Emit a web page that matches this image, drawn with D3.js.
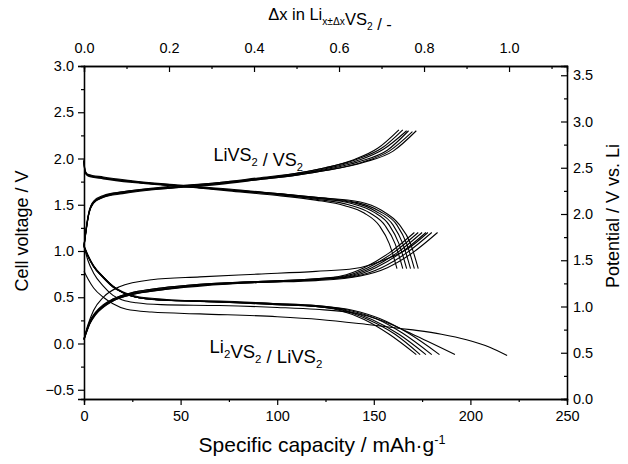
<!DOCTYPE html>
<html>
<head>
<meta charset="utf-8">
<script src="https://cdn.jsdelivr.net/npm/d3@7"></script>
<style>
  body { margin: 0; background: #fff; }
  text { font-family: "Liberation Sans", Arial, sans-serif; fill: #000; }
</style>
</head>
<body>
<div class="chart"></div>
<script>
// ---- data ----
// upper plateau, charge LiVS2 -> VS2
const uc1 = [[0,1.05],[1,1.22],[2.5,1.41],[5,1.53],[10,1.59],[20,1.63],[45,1.69],[70,1.74],[90,1.78],[110,1.84],[125,1.9],[140,1.99],[152,2.11],[163,2.31]];
const uc2 = [[0,1.05],[1,1.23],[2.5,1.42],[5,1.54],[10,1.6],[20,1.64],[45,1.7],[70,1.74],[90,1.79],[110,1.84],[125,1.9],[141,1.99],[154,2.11],[165,2.31]];
const uc3 = [[0,1.06],[1,1.22],[2.5,1.41],[5,1.53],[10,1.59],[20,1.64],[45,1.69],[70,1.73],[90,1.78],[110,1.83],[125,1.89],[142,1.98],[155,2.1],[167,2.3]];
const uc4 = [[0,1.05],[1,1.21],[2.5,1.4],[5,1.52],[10,1.59],[20,1.63],[45,1.69],[70,1.73],[90,1.78],[110,1.83],[125,1.88],[143,1.97],[157,2.09],[168,2.3]];
const uc5 = [[0,1.05],[1,1.2],[2.5,1.4],[5,1.52],[10,1.58],[20,1.63],[45,1.68],[70,1.73],[90,1.77],[110,1.82],[125,1.87],[144,1.96],[158,2.08],[170,2.29]];
const uc6 = [[0,1.06],[1,1.21],[2.5,1.4],[5,1.52],[10,1.58],[20,1.62],[45,1.68],[70,1.72],[90,1.77],[110,1.82],[125,1.87],[145,1.96],[160,2.08],[172,2.3]];

// upper plateau, discharge VS2 -> LiVS2
const ud1 = [[0,1.98],[0.5,1.87],[2,1.82],[10,1.79],[25,1.75],[50,1.7],[75,1.65],[100,1.6],[120,1.55],[135,1.49],[145,1.41],[153,1.27],[158,1.08],[162,0.81]];
const ud2 = [[0,1.97],[0.5,1.86],[2,1.82],[10,1.79],[25,1.75],[50,1.7],[75,1.66],[100,1.61],[120,1.56],[137,1.5],[148,1.41],[156,1.27],[161,1.08],[165,0.81]];
const ud3 = [[0,1.99],[0.5,1.87],[2,1.83],[10,1.8],[25,1.76],[50,1.71],[75,1.66],[100,1.61],[120,1.57],[139,1.51],[150,1.42],[158,1.28],[163,1.08],[167,0.81]];
const ud4 = [[0,1.97],[0.5,1.86],[2,1.82],[10,1.79],[25,1.75],[50,1.7],[75,1.66],[100,1.62],[120,1.57],[140,1.52],[151,1.43],[160,1.28],[165,1.08],[169,0.81]];
const ud5 = [[0,1.98],[0.5,1.86],[2,1.82],[10,1.79],[25,1.75],[50,1.71],[75,1.67],[100,1.62],[120,1.58],[142,1.52],[153,1.43],[162,1.28],[167,1.08],[171,0.81]];
const ud6 = [[0,1.97],[0.5,1.85],[2,1.81],[10,1.78],[25,1.74],[50,1.7],[75,1.66],[100,1.62],[120,1.58],[143,1.53],[154,1.44],[163,1.29],[169,1.08],[173,0.81]];

// lower plateau, charge Li2VS2 -> LiVS2
const lc0 = [[0,0.05],[2,0.2],[5,0.36],[10,0.5],[18,0.61],[35,0.69],[60,0.72],[90,0.75],[120,0.78],[140,0.81],[155,0.9],[168,1.03],[178,1.2]];
const lc1 = [[0,0.05],[1,0.12],[3,0.24],[6,0.34],[10,0.42],[15,0.48],[25,0.55],[40,0.6],[60,0.64],[90,0.67],[120,0.7],[133,0.73],[145,0.82],[158,0.98],[171,1.2]];
const lc2 = [[0,0.04],[1,0.11],[3,0.23],[6,0.33],[10,0.41],[15,0.48],[25,0.55],[40,0.6],[60,0.64],[90,0.67],[120,0.7],[135,0.73],[147,0.82],[160,0.98],[173,1.2]];
const lc3 = [[0,0.05],[1,0.12],[3,0.23],[6,0.33],[10,0.41],[15,0.47],[25,0.54],[40,0.59],[60,0.63],[90,0.67],[120,0.69],[137,0.73],[149,0.82],[162,0.98],[175,1.2]];
const lc4 = [[0,0.04],[1,0.11],[3,0.22],[6,0.32],[10,0.4],[15,0.47],[25,0.54],[40,0.59],[60,0.63],[90,0.66],[120,0.69],[139,0.73],[151,0.82],[164,0.98],[177,1.2]];
const lc5 = [[0,0.05],[1,0.11],[3,0.22],[6,0.32],[10,0.4],[15,0.46],[25,0.53],[40,0.58],[60,0.63],[90,0.66],[120,0.69],[141,0.73],[154,0.82],[167,0.98],[180,1.2]];
const lc6 = [[0,0.04],[1,0.1],[3,0.21],[6,0.31],[10,0.39],[15,0.46],[25,0.53],[40,0.58],[60,0.62],[90,0.66],[120,0.68],[143,0.73],[157,0.82],[170,0.98],[183,1.2]];

// lower plateau, discharge LiVS2 -> Li2VS2
const ld0 = [[0,0.78],[2,0.7],[5,0.6],[10,0.5],[15,0.43],[22,0.37],[35,0.34],[60,0.32],[100,0.29],[122,0.26],[145,0.21],[169,0.15],[185,0.1],[198,0.04],[210,-0.04],[219,-0.13]];
const ld1 = [[0,1.05],[2,0.95],[5,0.84],[10,0.72],[15,0.62],[20,0.55],[27,0.5],[40,0.47],[70,0.45],[100,0.42],[120,0.4],[132,0.36],[145,0.26],[158,0.1],[172,-0.12]];
const ld2 = [[0,1.05],[2,0.95],[5,0.83],[10,0.71],[15,0.61],[20,0.55],[27,0.5],[40,0.47],[70,0.45],[100,0.42],[120,0.4],[134,0.36],[147,0.26],[161,0.1],[174,-0.12]];
const ld3 = [[0,1.06],[2,0.96],[5,0.84],[10,0.72],[15,0.62],[20,0.56],[27,0.51],[40,0.48],[70,0.45],[100,0.43],[120,0.4],[135,0.36],[149,0.26],[163,0.1],[177,-0.12]];
const ld4 = [[0,1.05],[2,0.94],[5,0.83],[10,0.71],[15,0.61],[20,0.55],[27,0.5],[40,0.47],[70,0.45],[100,0.43],[120,0.41],[137,0.36],[151,0.27],[165,0.11],[180,-0.12]];
const ld5 = [[0,1.05],[2,0.95],[5,0.83],[10,0.72],[15,0.62],[20,0.55],[27,0.5],[40,0.47],[70,0.46],[100,0.43],[120,0.41],[139,0.36],[153,0.27],[168,0.11],[184,-0.12]];
const ld6 = [[0,1.05],[2,0.9],[5,0.76],[10,0.62],[15,0.52],[20,0.47],[27,0.44],[40,0.42],[70,0.41],[100,0.39],[120,0.37],[140,0.33],[155,0.24],[172,0.08],[192,-0.12]];

const curves = [uc1,uc2,uc3,uc4,uc5,uc6, ud1,ud2,ud3,ud4,ud5,ud6,
                lc0,lc1,lc2,lc3,lc4,lc5,lc6, ld0,ld1,ld2,ld3,ld4,ld5,ld6];

// axes
const xTicks = [0,50,100,150,200,250];
const topTicks = [0.0,0.2,0.4,0.6,0.8,1.0];
const leftTicks = [-0.5,0.0,0.5,1.0,1.5,2.0,2.5,3.0];
const rightTicks = [0.0,0.5,1.0,1.5,2.0,2.5,3.0,3.5];
const capacityPerDx = 220; // mAh/g for dx = 1
const voltageOffset = 0.6; // right axis = left axis + offset

//Create margins
const margin = {top:66, left:84, bottom:65, right:61};
const width = 628-margin.left-margin.right;
const height = 464-margin.top-margin.bottom;

const svg = d3.select('.chart')
  .append('svg')
  .attr('width', 628)
  .attr('height', 464)
  .append('g')
  .attr('transform', `translate(${margin.left},${margin.top})`);

//Scales
const xScale = d3.scaleLinear().domain([0,250]).range([0,width]);
const xTop = d3.scaleLinear().domain([0,250/capacityPerDx]).range([0,width]);
const yScale = d3.scaleLinear().domain([-0.6,3.0]).range([height,0]);
const yRight = d3.scaleLinear().domain([-0.6+voltageOffset,3.0+voltageOffset]).range([height,0]);

const fmt1 = d3.format('.1f');

// minor ticks
function minor(ticks) {
  const out = [];
  for (let i=0;i<ticks.length-1;i++) out.push((ticks[i]+ticks[i+1])/2);
  return out;
}

//Bottom axis
svg.append('g').attr('class','axis').attr('transform',`translate(0,${height})`)
  .call(d3.axisBottom(xScale).tickValues(minor(xTicks)).tickSize(3).tickFormat(''));
svg.append('g').attr('class','axis').attr('transform',`translate(0,${height})`)
  .call(d3.axisBottom(xScale).tickValues(xTicks).tickSize(6).tickPadding(6).tickFormat(d3.format('d')));

//Top axis (ticks inside)
svg.append('g').attr('class','axis')
  .call(d3.axisTop(xTop).tickValues(minor(topTicks).concat([1.1])).tickSize(-3).tickFormat(''));
svg.append('g').attr('class','axis')
  .call(d3.axisTop(xTop).tickValues(topTicks).tickSize(-6).tickPadding(13).tickFormat(fmt1));

//Left axis
svg.append('g').attr('class','axis')
  .call(d3.axisLeft(yScale).tickValues(minor(leftTicks)).tickSize(3).tickFormat(''));
svg.append('g').attr('class','axis')
  .call(d3.axisLeft(yScale).tickValues(leftTicks).tickSize(6).tickPadding(4).tickFormat(fmt1));

//Right axis (ticks inside)
svg.append('g').attr('class','axis').attr('transform',`translate(${width},0)`)
  .call(d3.axisRight(yRight).tickValues(minor(rightTicks)).tickSize(-3).tickFormat(''));
svg.append('g').attr('class','axis').attr('transform',`translate(${width},0)`)
  .call(d3.axisRight(yRight).tickValues(rightTicks).tickSize(-6).tickPadding(6).tickFormat(fmt1));

svg.selectAll('.axis .domain').attr('stroke','#000').attr('stroke-width',1.3);
svg.selectAll('.axis line').attr('stroke','#000').attr('stroke-width',1.2);
svg.selectAll('.axis text').attr('font-size',14.5).attr('font-family','"Liberation Sans", Arial, sans-serif').attr('fill','#000');

//Curves
const line = d3.line()
  .x(d => xScale(d[0]))
  .y(d => yScale(d[1]))
  .curve(d3.curveMonotoneX);

svg.append('g').selectAll('path')
  .data(curves)
  .enter()
  .append('path')
  .attr('d', line)
  .attr('fill','none')
  .attr('stroke','#000')
  .attr('stroke-width',1.1);

//Labels
function subText(g, x, y, parts, size) {
  const t = g.append('text').attr('x',x).attr('y',y).attr('font-size',size);
  parts.forEach(p => {
    if (p.sub) {
      t.append('tspan').attr('dy',5).attr('font-size',size*0.62).text(p.t);
      t.append('tspan').attr('dy',-5).text('');
    } else if (p.sup) {
      t.append('tspan').attr('dy',-8).attr('font-size',size*0.6).text(p.t);
      t.append('tspan').attr('dy',8).text('');
    } else {
      t.append('tspan').text(p.t);
    }
  });
  return t;
}

const root = d3.select('svg');

subText(svg, xScale(67), yScale(1.97), [{t:'LiVS'},{t:'2',sub:1},{t:' / VS'},{t:'2',sub:1}], 18);
subText(svg, xScale(65), yScale(-0.1), [{t:'Li'},{t:'2',sub:1},{t:'VS'},{t:'2',sub:1},{t:' / LiVS'},{t:'2',sub:1}], 18.5);

//Axis titles
subText(root, 330, 20, [{t:'\u0394x in Li'},{t:'x\u00b1\u0394x',sub:1},{t:'VS'},{t:'2',sub:1},{t:' / -'}], 16.5)
  .attr('text-anchor','middle');
subText(root, 322, 452, [{t:'Specific capacity / mAh\u00b7g'},{t:'-1',sup:1}], 21)
  .attr('text-anchor','middle');

root.append('text')
  .attr('transform','translate(28,231) rotate(-90)')
  .attr('text-anchor','middle')
  .attr('font-size',18)
  .text('Cell voltage / V');

root.append('text')
  .attr('transform','translate(619,216) rotate(-90)')
  .attr('text-anchor','middle')
  .attr('font-size',18)
  .text('Potential / V vs. Li');
</script>
</body>
</html>
